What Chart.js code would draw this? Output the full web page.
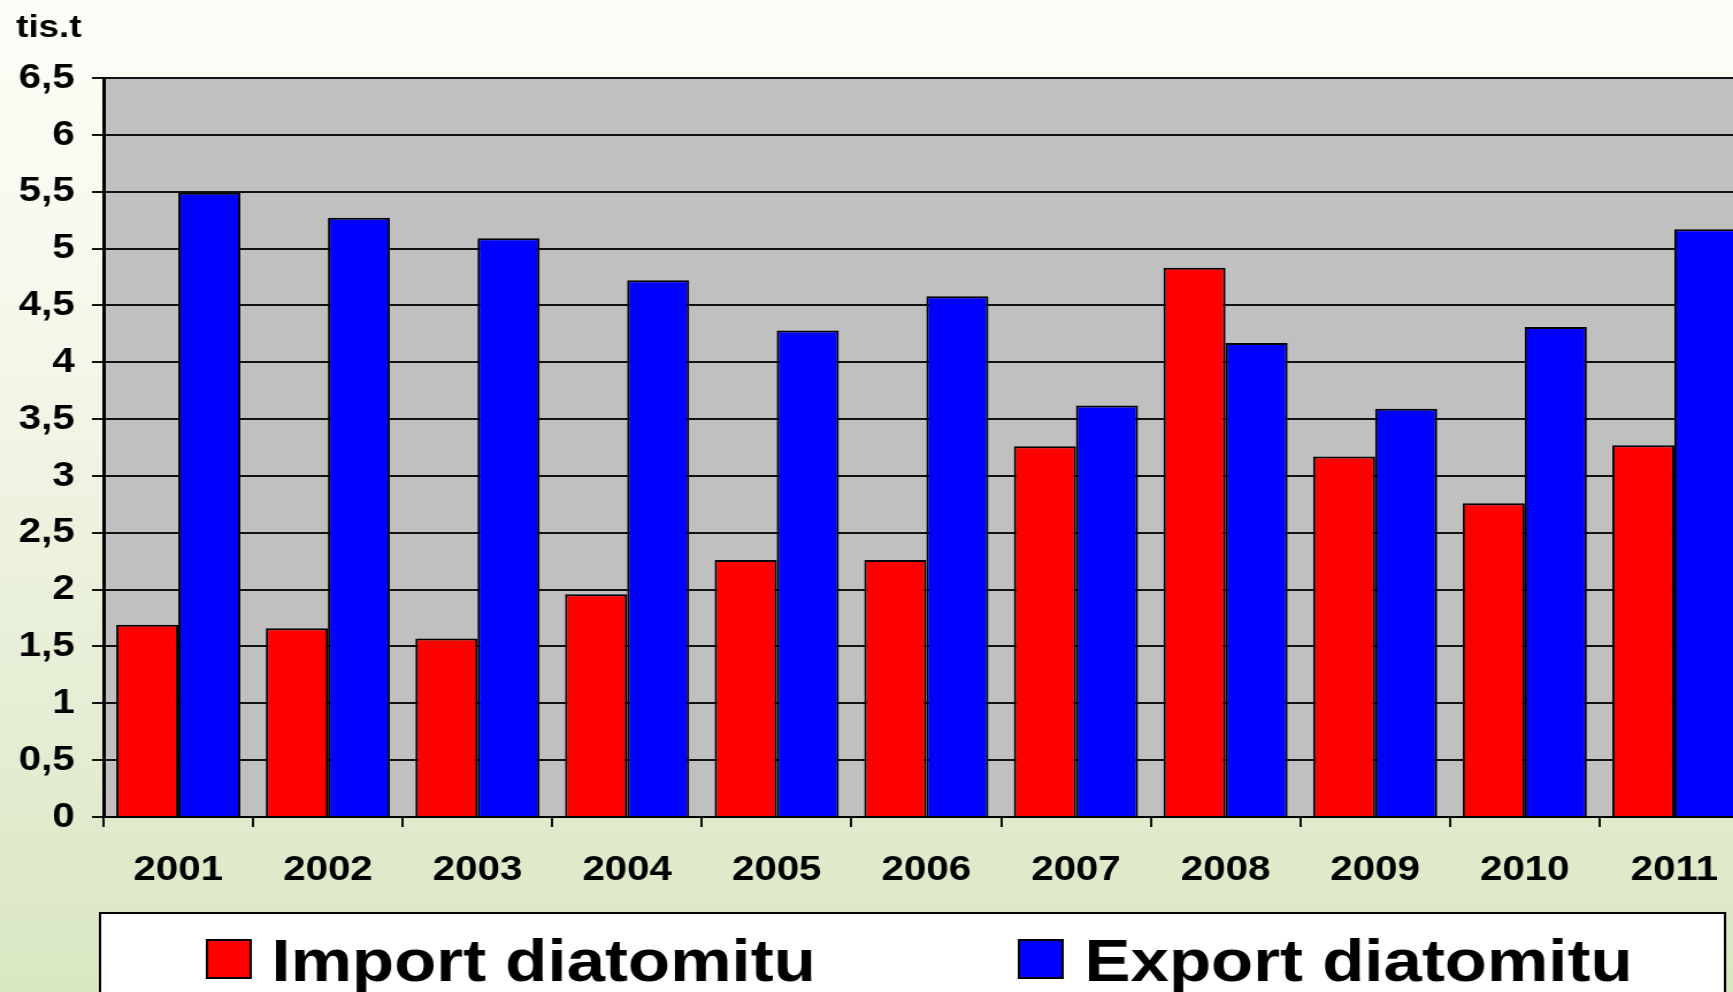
<!DOCTYPE html>
<html>
<head>
<meta charset="utf-8">
<title>Import a export diatomitu</title>
<script src="https://cdn.jsdelivr.net/npm/chart.js@4.4.0/dist/chart.umd.min.js"></script>
<style>
    html, body {
        margin: 0;
        padding: 0;
        width: 1733px;
        height: 992px;
        overflow: hidden;
    }
    body {
        background: linear-gradient(to bottom, #fcfdf7 0%, #f6f8ec 30%, #e8efd8 65%, #d9e7c2 100%);
    }
    /* the original picture is stretched sideways, so the whole chart is too */
    #wrap {
        width: 1530px;
        height: 992px;
        transform: scaleX(1.15);
        transform-origin: 0 0;
    }
</style>
</head>
<body>
<div id="wrap"><canvas id="chart" width="1530" height="992"></canvas></div>
<script>
// ========== DATA ==========
const years = ['2001', '2002', '2003', '2004', '2005', '2006', '2007', '2008', '2009', '2010', '2011'];
const importValues = [1.69, 1.66, 1.57, 1.96, 2.26, 2.26, 3.26, 4.83, 3.17, 2.76, 3.27];
const exportValues = [5.49, 5.27, 5.09, 4.72, 4.28, 4.58, 3.62, 4.17, 3.59, 4.31, 5.17];
const seriesLabels = ['Import diatomitu', 'Export diatomitu'];
const seriesColors = ['#ff0000', '#0000ff'];
const unitLabel = 'tis.t';

const FONT = '"Liberation Sans", Arial, sans-serif';
Chart.defaults.font.family = FONT;
Chart.defaults.color = '#000';

// gray plot area
const plotBackground = {
    id: 'plotBackground',
    beforeDraw(chart) {
        const { ctx, chartArea } = chart;
        ctx.save();
        ctx.fillStyle = '#c0c0c0';
        ctx.fillRect(chartArea.left, chartArea.top, chartArea.right - chartArea.left, chartArea.bottom - chartArea.top);
        ctx.restore();
    }
};

// unit label + boxed legend at the bottom
const extras = {
    id: 'extras',
    afterDraw(chart) {
        const ctx = chart.ctx;
        ctx.save();

        ctx.fillStyle = '#000';
        ctx.font = 'bold 32px ' + FONT;
        ctx.textBaseline = 'alphabetic';
        ctx.fillText(unitLabel, 14, 37);

        // legend box
        ctx.fillStyle = '#fff';
        ctx.fillRect(87, 913, 1413, 100);
        ctx.strokeStyle = '#000';
        ctx.lineWidth = 2;
        ctx.strokeRect(87, 913, 1413, 100);

        const markerX = [180, 886];
        const textX = [236, 943];
        chart.data.datasets.forEach((ds, i) => {
            ctx.fillStyle = ds.backgroundColor;
            ctx.fillRect(markerX[i], 940, 38, 38);
            ctx.strokeStyle = '#000';
            ctx.lineWidth = 2;
            ctx.strokeRect(markerX[i], 940, 38, 38);
            ctx.fillStyle = '#000';
            ctx.font = 'bold 60px ' + FONT;
            ctx.fillText(ds.label, textX[i], 981);
        });
        ctx.restore();
    }
};

const ctx = document.getElementById('chart').getContext('2d');
new Chart(ctx, {
    type: 'bar',
    data: {
        labels: years,
        datasets: [
            {
                label: seriesLabels[0],
                data: importValues,
                backgroundColor: seriesColors[0],
                borderColor: '#000',
                borderWidth: 2
            },
            {
                label: seriesLabels[1],
                data: exportValues,
                backgroundColor: seriesColors[1],
                borderColor: '#000',
                borderWidth: 2
            }
        ]
    },
    options: {
        responsive: false,
        animation: false,
        devicePixelRatio: 1,
        categoryPercentage: 0.83,
        barPercentage: 1,
        layout: { padding: { top: 78, right: 9, bottom: 0, left: 0 } },
        plugins: {
            legend: { display: false },
            tooltip: { enabled: false }
        },
        scales: {
            x: {
                ticks: {
                    color: '#000',
                    font: { size: 35, weight: 'bold' },
                    padding: 22
                },
                grid: {
                    drawOnChartArea: false,
                    color: '#111',
                    lineWidth: 2,
                    tickLength: 10,
                    offset: true
                },
                border: { color: '#000', width: 2 },
                afterFit: s => { s.height = 175; }
            },
            y: {
                min: 0,
                max: 6.5,
                ticks: {
                    stepSize: 0.5,
                    color: '#000',
                    font: { size: 35, weight: 'bold' },
                    padding: 15,
                    callback: v => String(v).replace('.', ',')
                },
                grid: {
                    color: '#111',
                    lineWidth: 2,
                    tickLength: 10
                },
                border: { color: '#000', width: 3 },
                afterFit: s => { s.width = 90; }
            }
        }
    },
    plugins: [plotBackground, extras]
});
</script>
</body>
</html>
